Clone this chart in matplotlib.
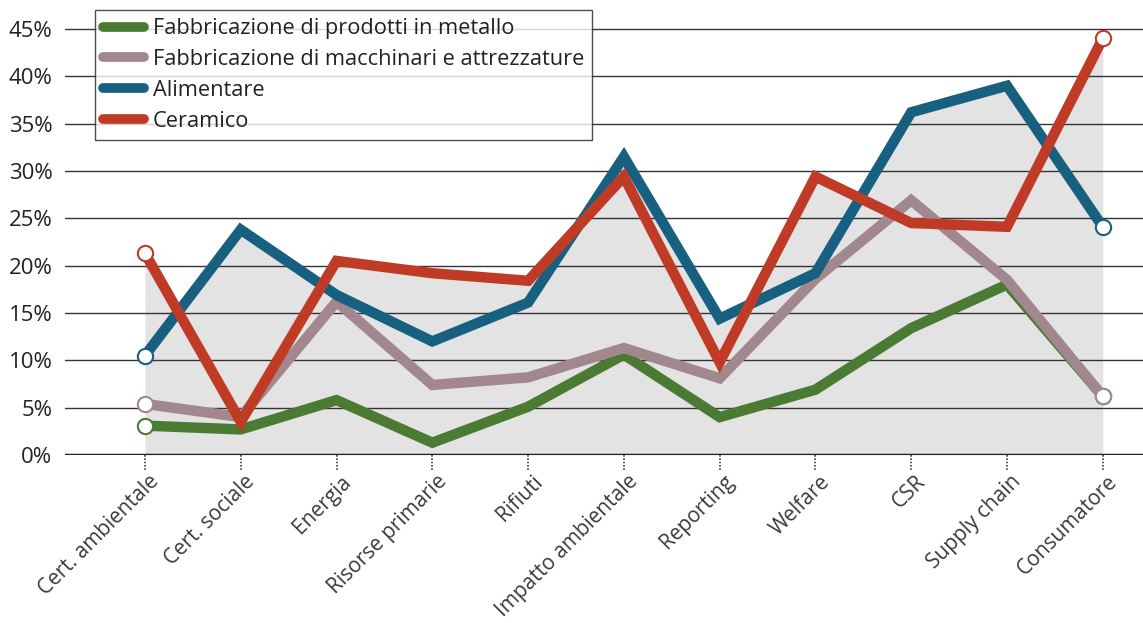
import matplotlib.pyplot as plt
import matplotlib.transforms as mtransforms
import numpy as np

plt.rcParams['font.family'] = ['Open Sans', 'DejaVu Sans']

categories = ["Cert. ambientale", "Cert. sociale", "Energia", "Risorse primarie",
              "Rifiuti", "Impatto ambientale", "Reporting", "Welfare", "CSR",
              "Supply chain", "Consumatore"]

metallo     = [3.1, 2.7, 5.8, 1.3, 5.1, 10.6, 4.0, 6.9, 13.4, 18.0, 6.2]
macchinari  = [5.4, 4.0, 16.2, 7.4, 8.2, 11.3, 8.1, 18.6, 26.9, 18.5, 6.2]
alimentare  = [10.5, 23.8, 16.9, 12.0, 16.1, 31.5, 14.4, 19.2, 36.2, 39.0, 24.1]
ceramico    = [21.3, 3.5, 20.5, 19.2, 18.4, 29.4, 9.8, 29.4, 24.5, 24.1, 44.0]

series = [
    ("Fabbricazione di prodotti in metallo", metallo, "#4b7a33"),
    ("Fabbricazione di macchinari e attrezzature", macchinari, "#a3878f"),
    ("Alimentare", alimentare, "#17607f"),
    ("Ceramico", ceramico, "#bf3b25"),
]

x = np.arange(len(categories))

# grey band = upper envelope of all the polylines
xf = np.linspace(0, len(categories) - 1, 2001)
env = np.max([np.interp(xf, x, s[1]) for s in series], axis=0)

fig = plt.figure(figsize=(11.43, 6.23), dpi=100)
ax = fig.add_axes([65/1143, 1 - 455/623, 1 - 65/1143, 445/623])

ax.fill_between(xf, 0, env, color="#e3e3e3", zorder=1, linewidth=0)

for label, vals, col in series:
    ax.plot(x, vals, color=col, lw=7.5, solid_capstyle='round', solid_joinstyle='miter',
            marker='o', markevery=[0, len(x) - 1], markersize=11,
            markerfacecolor='white', markeredgecolor=col, markeredgewidth=1.5,
            label=label, zorder=5)

ax.set_xlim(-0.835, 10.42)
ax.set_ylim(0, 47)
ax.set_yticks(range(0, 50, 5))
ax.set_yticklabels([f"{v}%" for v in range(0, 50, 5)])
ax.yaxis.grid(True, color="#333333", lw=1.0)
for gl in ax.get_ygridlines():
    gl.set_zorder(2)

ax.axhline(0, color="#222222", lw=2.5, zorder=6)

for side in ax.spines.values():
    side.set_visible(False)

ax.set_xticks(x)
ax.set_xticklabels(categories, rotation=45, ha='right', va='center',
                   rotation_mode='anchor', fontsize=15, color="#3a3a3a")
ax.tick_params(axis='x', length=0, pad=17)
ax.tick_params(axis='y', length=0, pad=9, labelsize=16, labelcolor="#222222")

# nudge the slanted labels a little to the right of their ticks
shift = mtransforms.ScaledTranslation(8/72, 0, fig.dpi_scale_trans)
for lbl in ax.get_xticklabels():
    lbl.set_transform(lbl.get_transform() + shift)

# dotted tick marks hanging under the baseline
trans = ax.get_xaxis_transform()
for xi in x:
    ax.plot([xi, xi], [0, -0.035], transform=trans, color="#444444", lw=1.2,
            ls=(0, (1, 1)), clip_on=False, zorder=6)

leg = ax.legend(loc='upper left', bbox_to_anchor=(95/1143, 1 - 10/623),
                bbox_transform=fig.transFigure, fontsize=15.7, frameon=True,
                fancybox=False, edgecolor="#222222", handlelength=1.85,
                handletextpad=0.42, borderpad=0.38, labelspacing=0.45,
                borderaxespad=0)
leg.get_frame().set_linewidth(1.0)
for h in leg.legend_handles:
    h.set_marker('')
    h.set_linewidth(7)
for t in leg.get_texts():
    t.set_color("#222222")
leg.set_zorder(10)

fig.savefig("out.png", dpi=100)
